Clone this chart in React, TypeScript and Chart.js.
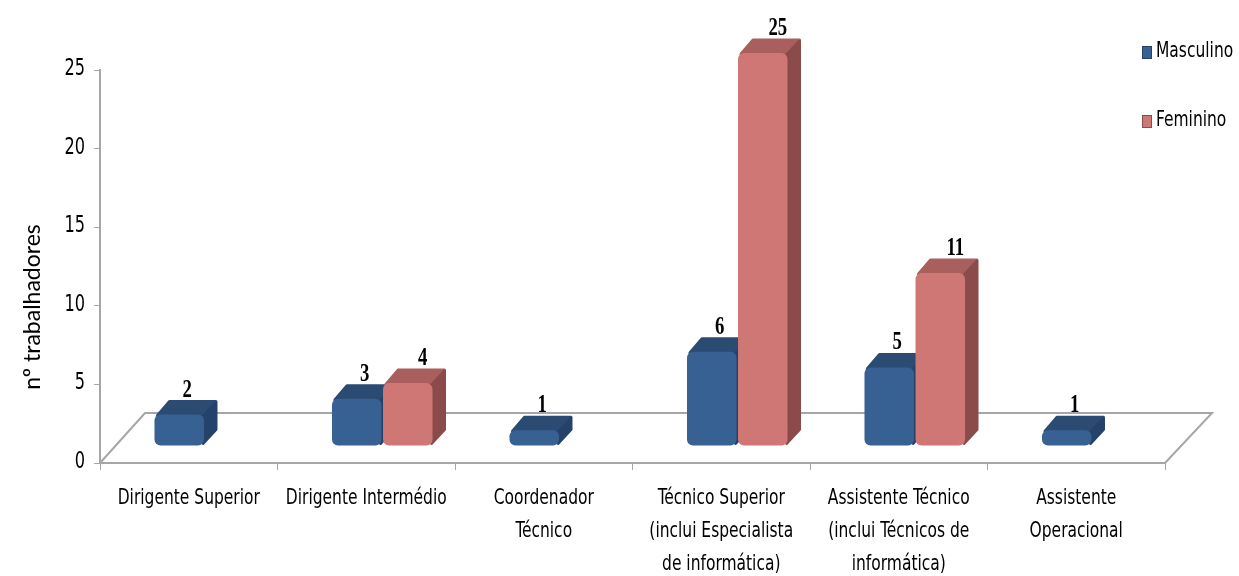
import React, { useEffect, useRef } from "react";
import { Chart, registerables } from "chart.js";

Chart.register(...registerables);

const categories: (string | string[])[] = [
  "Dirigente Superior",
  "Dirigente Intermédio",
  ["Coordenador", "Técnico"],
  ["Técnico Superior", "(inclui Especialista", "de informática)"],
  ["Assistente Técnico", "(inclui Técnicos de", "informática)"],
  ["Assistente", "Operacional"],
];
const masculino = [2, 3, 1, 6, 5, 1];
const feminino = [0, 4, 0, 25, 11, 0];
const seriesNames = ["Masculino", "Feminino"];
const yTicks = [0, 5, 10, 15, 20, 25];
const yTitle = "nº trabalhadores";

const FRONT = ["#386193", "#CE7775"];
const TOP = ["#2B4B73", "#A95F5D"];
const SIDE = ["#25426A", "#8A4B4A"];
const LABEL_DX = [8, 15];

const COND = '"DejaVu Sans Condensed", "DejaVu Sans", sans-serif';
const TEXT_SX = 0.82;

const SHIFT_X = 16;
const SHIFT_Y = 17;
const DX = 13;
const DY = 14;
const FLOOR_DX = 45;
const FLOOR_DY = 50;

function condensedText(ctx: any, text: string, x: number, y: number, sx: number) {
  ctx.save();
  ctx.translate(x, y);
  ctx.scale(sx, 1);
  ctx.fillText(text, 0, 0);
  ctx.restore();
}

const threeD = {
  id: "threeD",
  beforeDatasetsDraw(chart: any) {
    const ctx = chart.ctx;
    const { left, right, bottom } = chart.chartArea;
    ctx.save();
    ctx.strokeStyle = "#A6A6A6";
    ctx.lineWidth = 2;
    ctx.beginPath();
    ctx.moveTo(left, bottom);
    ctx.lineTo(left + FLOOR_DX, bottom - FLOOR_DY);
    ctx.lineTo(right + FLOOR_DX + 2, bottom - FLOOR_DY);
    ctx.lineTo(right, bottom);
    ctx.stroke();
    ctx.restore();

    ctx.save();
    ctx.translate(SHIFT_X, -SHIFT_Y);
    chart.data.datasets.forEach((ds: any, di: number) => {
      const meta = chart.getDatasetMeta(di);
      meta.data.forEach((el: any, i: number) => {
        const v = ds.data[i];
        if (!v) return;
        const l = el.x - el.width / 2;
        const r = el.x + el.width / 2;
        const t = el.y;
        const b = el.base;
        ctx.lineJoin = "round";
        ctx.lineWidth = 3;
        ctx.fillStyle = TOP[di];
        ctx.strokeStyle = TOP[di];
        ctx.beginPath();
        ctx.moveTo(l + 3, t + 1);
        ctx.lineTo(l + DX + 2, t - DY + 1);
        ctx.lineTo(r + DX - 1, t - DY + 1);
        ctx.lineTo(r - 1, t + 1);
        ctx.closePath();
        ctx.fill();
        ctx.stroke();
        ctx.fillStyle = SIDE[di];
        ctx.strokeStyle = SIDE[di];
        ctx.beginPath();
        ctx.moveTo(r - 1, t + 2);
        ctx.lineTo(r + DX - 1, t - DY + 2);
        ctx.lineTo(r + DX - 1, b - DY - 2);
        ctx.lineTo(r - 1, b - 2);
        ctx.closePath();
        ctx.fill();
        ctx.stroke();
      });
    });
  },
  afterDatasetsDraw(chart: any) {
    const ctx = chart.ctx;
    ctx.restore();
    ctx.save();
    ctx.fillStyle = "#000";
    ctx.font = 'bold 25px "Liberation Serif", "DejaVu Serif", serif';
    ctx.textAlign = "center";
    ctx.textBaseline = "alphabetic";
    chart.data.datasets.forEach((ds: any, di: number) => {
      const meta = chart.getDatasetMeta(di);
      meta.data.forEach((el: any, i: number) => {
        const v = ds.data[i];
        if (!v) return;
        condensedText(ctx, String(v), el.x + SHIFT_X + LABEL_DX[di], el.y - SHIFT_Y - DY - 4, 0.75);
      });
    });
    ctx.restore();
  },
  afterDraw(chart: any) {
    const ctx = chart.ctx;
    const xs = chart.scales.x;
    ctx.save();
    ctx.fillStyle = "#000";
    ctx.font = `21px ${COND}`;
    ctx.textAlign = "center";
    ctx.textBaseline = "middle";
    categories.forEach((lab, i) => {
      const lines = Array.isArray(lab) ? lab : [lab];
      const x = xs.getPixelForTick(i);
      lines.forEach((ln, k) => {
        condensedText(ctx, ln, x, chart.chartArea.bottom + 36 + k * 33, TEXT_SX);
      });
    });
    ctx.restore();

    const ysc = chart.scales.y;
    ctx.save();
    ctx.fillStyle = "#000";
    ctx.font = `23px ${COND}`;
    ctx.textAlign = "right";
    ctx.textBaseline = "middle";
    yTicks.forEach((v) => {
      condensedText(ctx, String(v), 85, ysc.getPixelForValue(v) - 1, 0.78);
    });
    ctx.restore();

    ctx.save();
    ctx.fillStyle = "#000";
    ctx.font = '23px Lato, "Open Sans", sans-serif';
    ctx.textAlign = "center";
    ctx.textBaseline = "middle";
    ctx.translate(33, 307);
    ctx.rotate(-Math.PI / 2);
    ctx.fillText(yTitle, 0, 0);
    ctx.restore();

    ctx.save();
    const ys = [52, 121];
    seriesNames.forEach((name, i) => {
      ctx.fillStyle = FRONT[i];
      ctx.fillRect(1142, ys[i] - 6, 10, 13);
      ctx.strokeStyle = SIDE[i];
      ctx.lineWidth = 1;
      ctx.strokeRect(1142.5, ys[i] - 5.5, 9, 12);
      ctx.fillStyle = "#000";
      ctx.font = `21px ${COND}`;
      ctx.textAlign = "left";
      ctx.textBaseline = "middle";
      condensedText(ctx, name, 1156, ys[i], TEXT_SX);
    });
    ctx.restore();
  },
};

export default function App() {
  const ref = useRef<HTMLCanvasElement>(null);
  useEffect(() => {
    if (!ref.current) return;
    const chart = new Chart(ref.current, {
      type: "bar",
      data: {
        labels: categories as any,
        datasets: [
          {
            label: seriesNames[0],
            data: masculino,
            backgroundColor: FRONT[0],
            borderRadius: 6,
            borderSkipped: false,
            clip: false as any,
            categoryPercentage: 0.575,
            barPercentage: 0.97,
          },
          {
            label: seriesNames[1],
            data: feminino,
            backgroundColor: FRONT[1],
            borderRadius: 6,
            borderSkipped: false,
            clip: false as any,
            categoryPercentage: 0.575,
            barPercentage: 0.97,
          },
        ],
      },
      options: {
        responsive: false,
        animation: false,
        layout: { padding: { top: 70, right: 74, left: 0, bottom: 0 } },
        plugins: {
          legend: { display: false },
          tooltip: { enabled: false },
        },
        scales: {
          x: {
            border: { display: true, color: "#A6A6A6", width: 2 },
            grid: {
              display: true,
              drawOnChartArea: false,
              drawTicks: true,
              tickLength: 7,
              color: "#A6A6A6",
              lineWidth: 1,
            },
            ticks: {
              autoSkip: false,
              maxRotation: 0,
              minRotation: 0,
              padding: 12,
              color: "rgba(0,0,0,0)",
              font: { family: COND, size: 21, lineHeight: 1.55 },
            },
            afterFit(scale: any) {
              scale.height = 113;
            },
          },
          y: {
            min: 0,
            max: 25,
            afterBuildTicks(scale: any) {
              scale.ticks = yTicks.map((v) => ({ value: v }));
            },
            border: { display: true, color: "#A6A6A6", width: 2 },
            grid: {
              display: true,
              drawOnChartArea: false,
              drawTicks: true,
              tickLength: 6,
              color: "#A6A6A6",
              lineWidth: 1,
            },
            ticks: {
              padding: 7,
              color: "rgba(0,0,0,0)",
              font: { family: COND, size: 20 },
            },
            afterFit(scale: any) {
              scale.width = 100;
            },
          },
        },
      },
      plugins: [threeD],
    });
    return () => chart.destroy();
  }, []);
  return (
    <div style={{ position: "absolute", left: 0, top: 0, width: 1239, height: 576, background: "#fff" }}>
      <canvas ref={ref} width={1239} height={576} style={{ width: 1239, height: 576, display: "block" }} />
    </div>
  );
}
